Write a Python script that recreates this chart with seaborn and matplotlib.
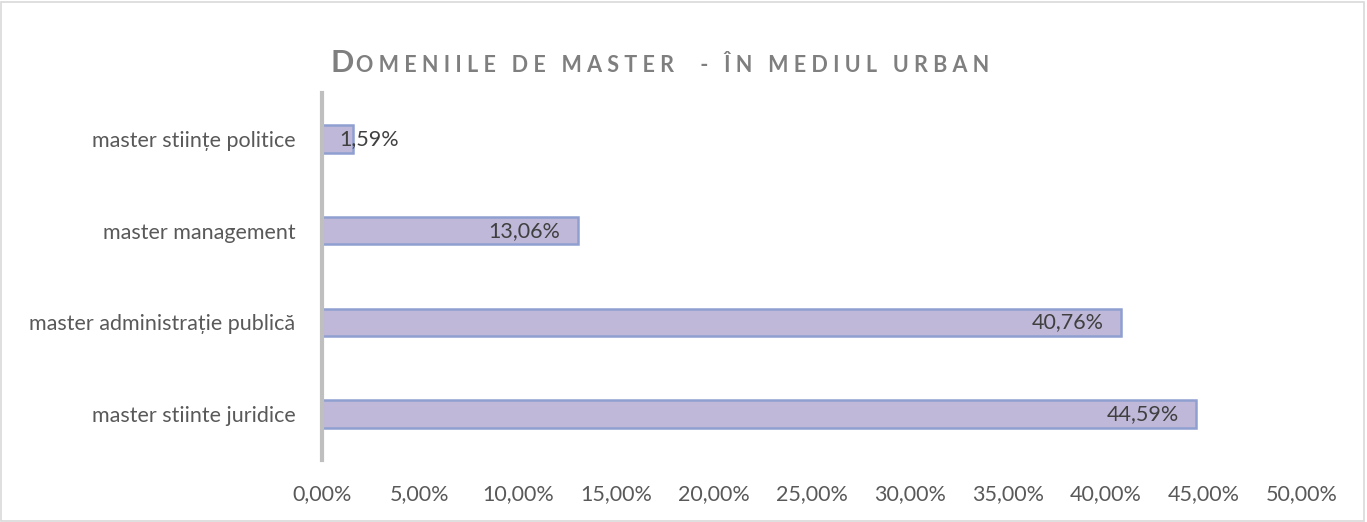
import matplotlib
matplotlib.use("Agg")
import matplotlib.pyplot as plt
import seaborn as sns
import pandas as pd
from matplotlib.patches import Rectangle

# ── Data ─────────────────────────────────────────────────────
categories = ['master stiinte juridice',
              'master administrație publică',
              'master management',
              'master stiințe politice']
values = [44.59, 40.76, 13.06, 1.59]
xticks = [0, 5, 10, 15, 20, 25, 30, 35, 40, 45, 50]

df = pd.DataFrame({'domeniu': categories, 'procent': values})

sns.set_theme(style='white')
plt.rcParams['font.family'] = ['Lato', 'DejaVu Sans']

fig = plt.figure(figsize=(13.67, 5.22), dpi=100)
ax = fig.add_axes([0.2355, 0.1188, 0.717, 0.703])

# bars, top to bottom in the reference: reversed order
order = categories[::-1]
sns.barplot(data=df, x='procent', y='domeniu', order=order, orient='h',
            color='#bfb8d8', edgecolor='#8e9fd0', linewidth=1.8,
            width=0.30, saturation=1, ax=ax)

ax.set_xlim(0, 50)
ax.set_ylim(3.5, -0.5)
ax.set_xticks(xticks)
ax.set_xticklabels([f'{t:.2f}%'.replace('.', ',') for t in xticks])
ax.set_xlabel('')
ax.set_ylabel('')
ax.tick_params(axis='x', length=0, pad=17, labelsize=15.5, colors='#595959')
ax.tick_params(axis='y', length=0, pad=19, labelsize=15.5, colors='#595959')

for s in ['top', 'right', 'bottom']:
    ax.spines[s].set_visible(False)
ax.spines['left'].set_color('#bfbfbf')
ax.spines['left'].set_linewidth(3)

# value labels (inside end)
for cat, v in zip(categories, values):
    y = order.index(cat)
    lab = f'{v:.2f}%'.replace('.', ',')
    if v > 5:
        ax.annotate(lab, xy=(v, y), xytext=(-12.5, 0), textcoords='offset points',
                    ha='right', va='center', fontsize=15.5, color='#404040')
    else:
        ax.annotate(lab, xy=(v, y), xytext=(-10, 0), textcoords='offset points',
                    ha='left', va='center', fontsize=15.5, color='#404040')

# title with small-caps look
t1 = fig.text(0.2415, 0.862, 'D', fontsize=22, color='#7f7f7f',
              fontweight='bold', ha='left', va='baseline')
fig.canvas.draw()
bb = t1.get_window_extent()
fig.text(bb.x1 / fig.bbox.width + 0.002, 0.862,
         'O M E N I I L E   D E   M A S T E R     -   Î N   M E D I U L   U R B A N',
         fontsize=15.5, color='#7f7f7f', fontweight='bold', ha='left', va='baseline')

# outer frame
fig.patches.append(Rectangle((0.001, 0.002), 0.997, 0.995, transform=fig.transFigure,
                             fill=False, edgecolor='#d9d9d9', linewidth=1.2))

fig.savefig('out.png', dpi=100)
